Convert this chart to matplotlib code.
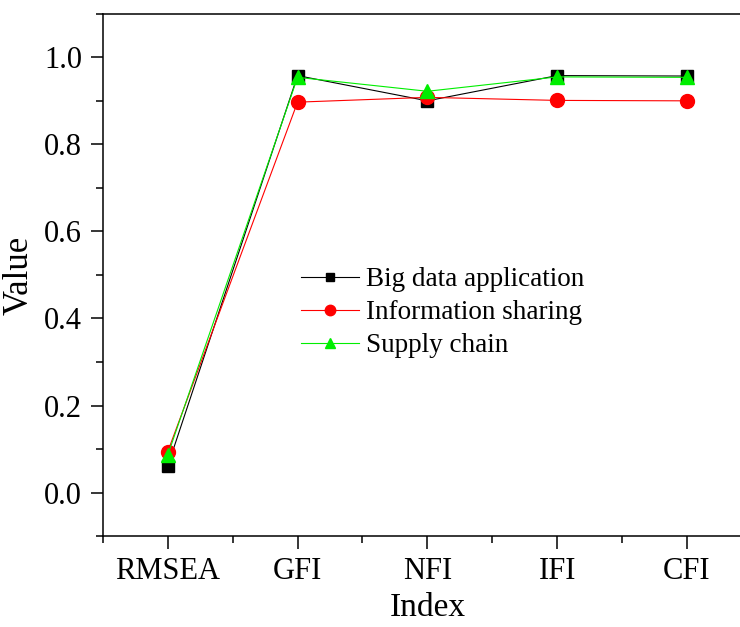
import matplotlib
matplotlib.use("Agg")
import matplotlib.pyplot as plt
from matplotlib.ticker import MultipleLocator, FixedLocator

plt.rcParams["font.family"] = ["Liberation Serif", "DejaVu Serif"]

indexes = ["RMSEA", "GFI", "NFI", "IFI", "CFI"]
big_data = [0.061, 0.958, 0.900, 0.958, 0.957]
info_sharing = [0.094, 0.897, 0.908, 0.901, 0.900]
supply_chain = [0.086, 0.954, 0.922, 0.955, 0.954]

x = list(range(1, len(indexes) + 1))

fig = plt.figure(figsize=(7.4, 6.27), dpi=100)
ax = fig.add_axes([0.139, 0.145, 0.877, 0.833])

ax.plot(x, big_data, color="black", lw=0.8, marker="s", ms=8.5,
        label="Big data application")
ax.plot(x, info_sharing, color="#ff0000", lw=0.8, marker="o", ms=10,
        label="Information sharing")
ax.plot(x, supply_chain, color="#00ee00", lw=0.8, marker="^", ms=10,
        label="Supply chain")

ax.set_xlim(0.5, 5.5)
ax.set_ylim(-0.1, 1.1)
ax.set_xticks(x)
ax.set_xticklabels(indexes)
ax.xaxis.set_minor_locator(FixedLocator([0.5, 1.5, 2.5, 3.5, 4.5, 5.5]))
ax.yaxis.set_major_locator(FixedLocator([0.0, 0.2, 0.4, 0.6, 0.8, 1.0]))
ax.yaxis.set_minor_locator(MultipleLocator(0.1))
ax.yaxis.set_major_formatter(matplotlib.ticker.FormatStrFormatter("%.1f"))

ax.tick_params(which="major", direction="out", length=9, width=1.1,
               labelsize=22, pad=6)
ax.tick_params(which="minor", direction="out", length=5, width=1.1)
ax.tick_params(top=False, right=False, which="both")
for s in ax.spines.values():
    s.set_linewidth(1.1)

ax.set_xlabel("Index", fontsize=24, labelpad=5)
ax.set_ylabel("Value", fontsize=25, labelpad=6)

ax.legend(loc="upper left", bbox_to_anchor=(0.305, 0.515), frameon=False,
          fontsize=19.5, handlelength=2.15, handletextpad=0.25,
          labelspacing=0.3, markerscale=0.75, borderaxespad=0, borderpad=0)

fig.savefig("out.png", dpi=100)
